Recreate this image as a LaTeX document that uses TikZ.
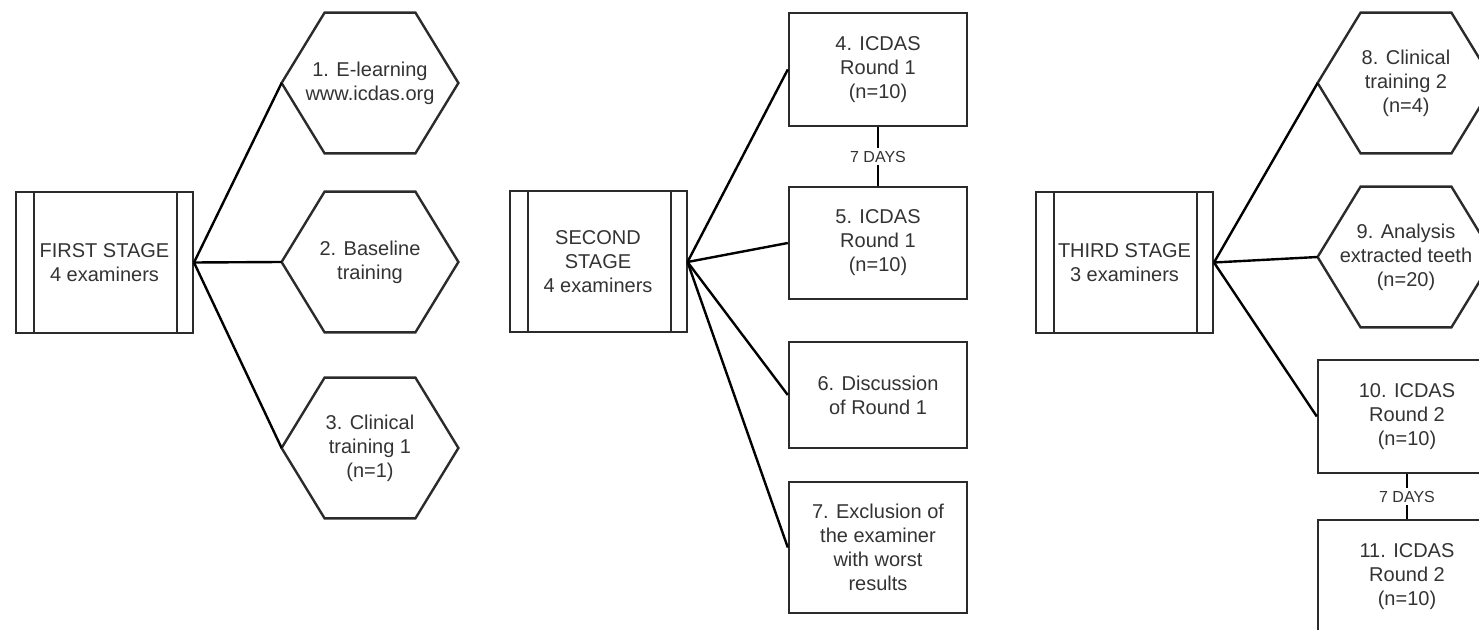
\documentclass[tikz,border=0pt]{standalone}
\usepackage{fontspec}
\setmainfont{Liberation Sans}
\definecolor{tc}{HTML}{333333}
\definecolor{bc}{HTML}{2B2B2B}
\begin{document}
\begin{tikzpicture}[x=0.5pt,y=-0.5pt,
  every node/.style={font=\fontsize{10}{12}\selectfont, text=tc, align=center, inner sep=0pt},
  stagebox/.style={draw=bc, line width=1pt, minimum width=88.5pt, minimum height=70.5pt},
  hexbox/.style={minimum width=88pt, minimum height=70pt},
  rectbox/.style={draw=bc, line width=1.2pt, minimum width=89pt},
  hexline/.style={draw=bc, line width=1.2pt, line join=miter},
  innerline/.style={draw=bc, line width=1pt},
  link/.style={draw=black, line width=1.2pt},
  dayslabel/.style={fill=white, font=\fontsize{8}{9.6}\selectfont, inner sep=1.5pt}]
\useasboundingbox (0,0) rectangle (1479,630);
\clip (0,0) rectangle (1479,630);

% stage boxes
\node[stagebox] (s1) at (104.5,262.5) {FIRST STAGE\\4 examiners};
\node[stagebox] (s2) at (598,262) {SECOND\\STAGE\\4 examiners};
\node[stagebox] (s3) at (1124.5,262.5) {THIRD STAGE\\3 examiners};
\foreach \n in {s1,s2,s3}{
  \draw[innerline] ([xshift=9.5pt]\n.north west) -- ([xshift=9.5pt]\n.south west);
  \draw[innerline] ([xshift=-8.5pt]\n.north east) -- ([xshift=-8.5pt]\n.south east);
}

% hexagons
\node[hexbox] (h1) at (370,83) {1. E-learning\\www.icdas.org};
\node[hexbox] (h2) at (370,262) {2. Baseline\\training};
\node[hexbox] (h3) at (370,448) {3. Clinical\\training 1\\(n=1)};
\node[hexbox] (h8) at (1406,83) {8. Clinical\\training 2\\(n=4)};
\node[hexbox] (h9) at (1406,257) {9. Analysis\\extracted teeth\\(n=20)};
\foreach \n in {h1,h2,h3,h8,h9}{
  \draw[hexline] (\n.west) -- ([xshift=21.5pt]\n.north west) -- ([xshift=-21.5pt]\n.north east)
    -- (\n.east) -- ([xshift=-21.5pt]\n.south east) -- ([xshift=21.5pt]\n.south west) -- cycle;
}

% rectangles
\node[rectbox, minimum height=56.5pt] (b4) at (878,69.5) {4. ICDAS\\Round 1\\(n=10)};
\node[rectbox, minimum height=56pt] (b5) at (878,243) {5. ICDAS\\Round 1\\(n=10)};
\node[rectbox, minimum height=53pt] (b6) at (878,395) {6. Discussion\\of Round 1};
\node[rectbox, minimum height=65.5pt] (b7) at (878,547.5) {7. Exclusion of\\the examiner\\with worst\\results};
\node[rectbox, minimum height=56.5pt] (b10) at (1407,416.5) {10. ICDAS\\Round 2\\(n=10)};
\node[rectbox, minimum height=56.5pt] (b11) at (1407,576.5) {11. ICDAS\\Round 2\\(n=10)};

% connectors
\draw[link] (s1.east) -- (h1.west);
\draw[link] (s1.east) -- (h2.west);
\draw[link] (s1.east) -- (h3.west);
\draw[link] (s2.east) -- (b4.west);
\draw[link] (s2.east) -- (b5.west);
\draw[link] (s2.east) -- (b6.west);
\draw[link] (s2.east) -- (b7.west);
\draw[link] (s3.east) -- (h8.west);
\draw[link] (s3.east) -- (h9.west);
\draw[link] (s3.east) -- (b10.west);
\draw[link] (b4.south) -- node[dayslabel] {7 DAYS} (b5.north);
\draw[link] (b10.south) -- node[dayslabel] {7 DAYS} (b11.north);
\end{tikzpicture}
\end{document}
